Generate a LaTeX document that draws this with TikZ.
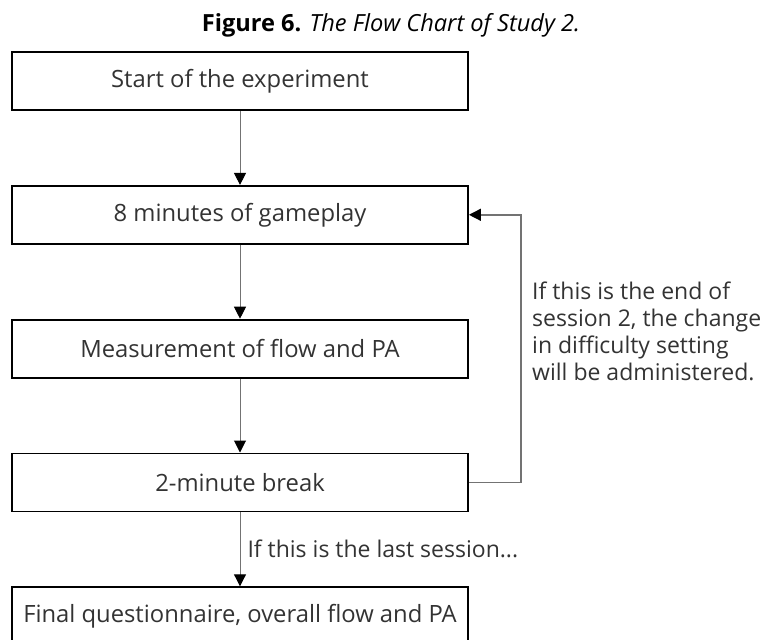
\documentclass[tikz,border=0pt]{standalone}
\usepackage{fontspec}
\setmainfont{Open Sans}
\usetikzlibrary{arrows.meta, positioning}
\definecolor{inkgray}{HTML}{333333}
\tikzstyle{stage} = [rectangle, minimum width=456pt, minimum height=58pt, inner sep=2pt, text centered, draw=black, line width=1.8pt, text=inkgray, font=\fontsize{23.8}{28}\selectfont]
\tikzstyle{arrow} = [draw=black!55, line width=1pt, -{Triangle[length=12pt,width=12pt,color=black]}]
\tikzstyle{note} = [text=inkgray, inner sep=0pt, align=left, font=\fontsize{23}{27}\selectfont]

\begin{document}
\begin{tikzpicture}[x=1pt, y=-1pt, node distance=74pt]
\useasboundingbox (0,0) rectangle (777,640);
% Title
\node (title) [anchor=base, text=black, inner sep=0pt, font=\fontsize{23.6}{28}\selectfont] at (391,31) {\textbf{Figure 6.} \textit{The Flow Chart of Study 2.}};
% Boxes
\node (start) [stage] at (240,81) {Start of the experiment};
\node (play) [stage, below=of start] {8 minutes of gameplay};
\node (measure) [stage, below=of play] {Measurement of flow and PA};
\node (pause) [stage, below=of measure] {2-minute break};
\node (final) [stage, below=of pause] {Final questionnaire, overall flow and PA};
% Loop back
\coordinate (turn) at (521,0);
\node (loopnote) [note, anchor=west] at (532,331) {If this is the end of\\session 2, the change\\in difficulty setting\\will be administered.};

% Arrows
\draw [arrow] (start) -- (play);
\draw [arrow] (play) -- (measure);
\draw [arrow] (measure) -- (pause);
\draw [arrow] (pause) -- node [note, right, xshift=7pt] {If this is the last session...} (final);
\draw [arrow, line width=1.4pt] (pause.east) -- (pause.east -| turn) -- (play.east -| turn) -- (play.east);
\end{tikzpicture}
\end{document}
